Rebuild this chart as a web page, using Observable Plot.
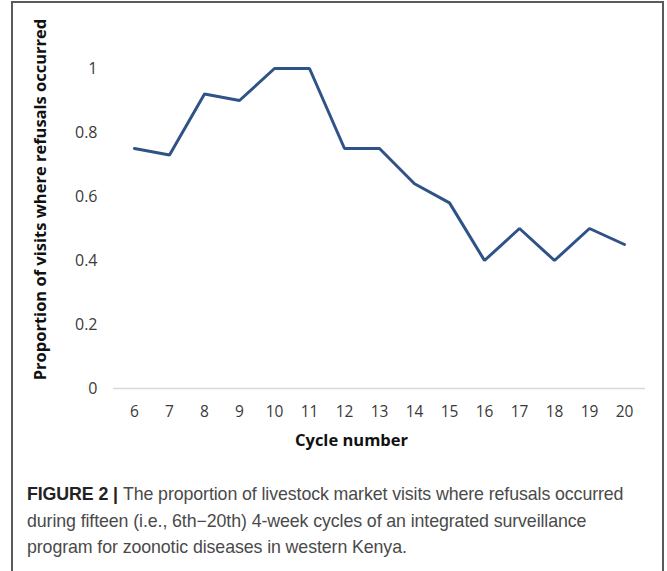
<!DOCTYPE html>
<html>
<head>
<meta charset="utf-8">
<script src="https://cdn.jsdelivr.net/npm/d3@7"></script>
<script src="https://cdn.jsdelivr.net/npm/@observablehq/plot@0.6"></script>
<style>
  html, body { margin: 0; padding: 0; background: #fff; overflow: hidden; }
  #wrap { position: relative; width: 667px; height: 571px; }
  #frame { position: absolute; left: 11px; top: 1px; width: 653px; height: 620px;
           border: 2px solid #5a5a5a; box-sizing: border-box; }
  #chart { position: absolute; left: 0; top: 0; }
  #caption { position: absolute; left: 27px; top: 481px; width: 630px;
             font-family: "Liberation Sans", Arial, sans-serif; font-size: 17.8px;
             line-height: 26.5px; color: #4a4a4a; letter-spacing: -0.1px; }
  #caption div { white-space: nowrap; }
  #caption b { color: #222; margin-right: 5px; }
</style>
</head>
<body>
<div id="wrap">
  <div id="frame"></div>
  <div id="chart"></div>
  <div id="caption">
    <div><b>FIGURE 2 |</b><span>The proportion of livestock market visits where refusals occurred</span></div>
    <div>during fifteen (i.e., 6th−20th) 4-week cycles of an integrated surveillance</div>
    <div>program for zoonotic diseases in western Kenya.</div>
  </div>
</div>
<script>
const cycles = [6, 7, 8, 9, 10, 11, 12, 13, 14, 15, 16, 17, 18, 19, 20];
const proportions = [0.75, 0.73, 0.92, 0.90, 1.00, 1.00, 0.75, 0.75, 0.64, 0.58, 0.40, 0.50, 0.40, 0.50, 0.45];
const yTicks = [0, 0.2, 0.4, 0.6, 0.8, 1];
const xTitle = "Cycle number";
const yTitle = "Proportion of visits where refusals occurred";

const data = cycles.map((c, i) => ({cycle: c, value: proportions[i]}));

const chart = Plot.plot({
  width: 667,
  height: 460,
  marginLeft: 113,
  marginRight: 22,
  marginTop: 68,
  marginBottom: 72,
  style: {fontFamily: "'Open Sans', sans-serif", fontSize: "16px", color: "#3a3a3a", background: "transparent"},
  x: {type: "point", domain: cycles, padding: 0.5, label: null},
  y: {domain: [0, 1], label: null},
  marks: [
    Plot.ruleY([0], {stroke: "#d9d9d9", strokeWidth: 1.3}),
    Plot.axisY({ticks: yTicks, tickSize: 0, tickPadding: 16, tickFormat: d => String(d), label: null, fontSize: 16}),
    Plot.axisX({tickSize: 0, tickPadding: 17, label: null, fontSize: 15.5}),
    Plot.line(data, {x: "cycle", y: "value", stroke: "#2f5287", strokeWidth: 3, strokeLinejoin: "miter"}),
    Plot.text([xTitle], {frameAnchor: "bottom", dx: -28, dy: 57, fontWeight: "bold", fontSize: 16.5, fill: "#111"}),
    Plot.text([yTitle], {frameAnchor: "left", textAnchor: "middle", rotate: -90, dx: -73, dy: -29, fontWeight: "bold", fontSize: 16.5, fill: "#111"})
  ]
});
document.getElementById("chart").appendChild(chart);
</script>
</body>
</html>
